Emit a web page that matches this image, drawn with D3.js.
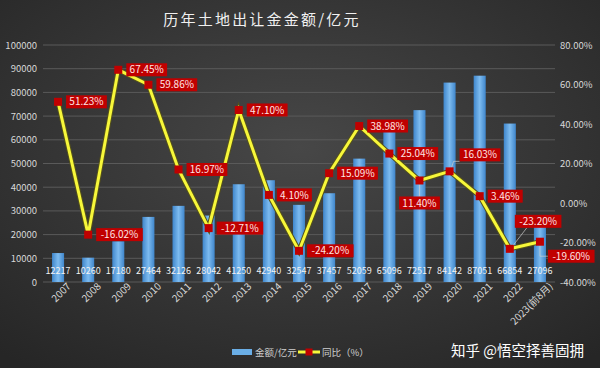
<!DOCTYPE html>
<html><head><meta charset="utf-8">
<script src="https://cdn.jsdelivr.net/npm/d3@7"></script>
<style>
html,body{margin:0;padding:0;background:#333;}
svg{display:block;}
text{font-family:"Noto Sans CJK SC","Noto Sans",sans-serif;}
</style></head>
<body>
<script>
const categories = ["2007","2008","2009","2010","2011","2012","2013","2014","2015","2016","2017","2018","2019","2020","2021","2022","2023(前8月)"];
const amounts = [12217,10260,17180,27464,32126,28042,41250,42940,32547,37457,52059,65096,72517,84142,87051,66854,27096];
const yoy = [51.23,-16.02,67.45,59.86,16.97,-12.71,47.10,4.10,-24.20,15.09,38.98,25.04,11.40,16.03,3.46,-23.20,-19.60];
const leftTicks = [0,10000,20000,30000,40000,50000,60000,70000,80000,90000,100000];
const rightTicks = [-40,-20,0,20,40,60,80];
const title = "历年土地出让金金额/亿元";
const legendLabels = ["金额/亿元","同比（%）"];
// label placement per point: r=right, b=below, ar=above-right, a=above, rb=right-below
const labelPos = ["r","r","r","r","r","r","r","r","r","r","r","r","b","ar","r","a","rb"];

const W=600,H=368;
const m={l:43,r:45,t:45,b:86};
const svg=d3.select("body").append("svg").attr("width",W).attr("height",H);
const defs=svg.append("defs");
const bg=defs.append("radialGradient").attr("id","bg").attr("cx","50%").attr("cy","40%").attr("r","75%");
bg.append("stop").attr("offset","0%").attr("stop-color","#474747");
bg.append("stop").attr("offset","100%").attr("stop-color","#262626");
const bar=defs.append("linearGradient").attr("id","bar").attr("x1","0").attr("x2","1").attr("y1","0").attr("y2","0");
bar.append("stop").attr("offset","0%").attr("stop-color","#3f86cc");
bar.append("stop").attr("offset","50%").attr("stop-color","#7dbbef");
bar.append("stop").attr("offset","100%").attr("stop-color","#3f86cc");
svg.append("rect").attr("width",W).attr("height",H).attr("fill","url(#bg)");

const x=d3.scaleBand().domain(categories).range([m.l,W-m.r]).paddingInner(0.6).paddingOuter(0.3);
const yL=d3.scaleLinear().domain([0,100000]).range([H-m.b,m.t]);
const yR=d3.scaleLinear().domain([-40,80]).range([H-m.b,m.t]);

// grid
svg.append("g").selectAll("line").data(leftTicks).join("line")
 .attr("x1",m.l).attr("x2",W-m.r).attr("y1",d=>yL(d)).attr("y2",d=>yL(d))
 .attr("stroke","#5a5a5a").attr("stroke-width",1);

// axes
const axL=svg.append("g").attr("transform",`translate(${m.l},0)`)
 .call(d3.axisLeft(yL).tickValues(leftTicks).tickSize(0).tickPadding(6).tickFormat(d3.format("d")));
axL.select(".domain").remove();
axL.selectAll("text").attr("fill","#d8d8d8").attr("font-size",9.5);
const axR=svg.append("g").attr("transform",`translate(${W-m.r},0)`)
 .call(d3.axisRight(yR).tickValues(rightTicks).tickSize(0).tickPadding(5).tickFormat(d=>d.toFixed(2)+"%"));
axR.select(".domain").remove();
axR.selectAll("text").attr("fill","#d8d8d8").attr("font-size",9.5);

// bars
const cx=d=>x(d)+x.bandwidth()/2;
svg.append("g").selectAll("rect").data(categories).join("rect")
 .attr("x",d=>x(d)).attr("width",x.bandwidth())
 .attr("y",(d,i)=>yL(amounts[i])).attr("height",(d,i)=>yL(0)-yL(amounts[i]))
 .attr("fill","url(#bar)");
svg.append("g").selectAll("text").data(categories).join("text")
 .attr("x",d=>cx(d)).attr("y",yL(0)-8).attr("text-anchor","middle")
 .attr("fill","#f2f2f2").attr("font-size",9).text((d,i)=>amounts[i]);

// x axis labels
const axB=svg.append("g").attr("transform",`translate(0,${H-m.b})`)
 .call(d3.axisBottom(x).tickSize(0).tickPadding(4));
axB.select(".domain").remove();
axB.selectAll("text").attr("fill","#d8d8d8").attr("font-size",10)
 .attr("text-anchor","end").attr("dx","0.6em").attr("dy","0.9em")
 .attr("transform","rotate(-45)");

// line
const line=d3.line().x((d,i)=>cx(categories[i])).y(d=>yR(d));
svg.append("path").datum(yoy).attr("d",line).attr("fill","none")
 .attr("stroke","#55521a").attr("stroke-width",5).attr("stroke-linejoin","miter");
svg.append("path").datum(yoy).attr("d",line).attr("fill","none")
 .attr("stroke","#f7f73a").attr("stroke-width",3).attr("stroke-linejoin","miter");

// labels
const lg=svg.append("g");
yoy.forEach((v,i)=>{
  const px=cx(categories[i]), py=yR(v);
  const txt=v.toFixed(2)+"%";
  const bw=txt.length*5.8+6, bh=13;
  let bx,by;
  const p=labelPos[i];
  if(p==="r"){bx=px+8;by=py-bh/2;}
  else if(p==="b"){bx=px-bw/2;by=py+16;
    lg.append("line").attr("x1",px).attr("x2",px).attr("y1",py+4).attr("y2",by).attr("stroke","#ccc").attr("stroke-width",0.7);}
  else if(p==="ar"){bx=px+10;by=py-23;
    lg.append("polyline").attr("points",`${px+2},${py-4} ${px+4},${py-10} ${bx},${py-10}`).attr("fill","none").attr("stroke","#ccc").attr("stroke-width",0.7);}
  else if(p==="a"){bx=px+5;by=py-34;
    lg.append("line").attr("x1",px+3).attr("x2",bx+12).attr("y1",py-3).attr("y2",by+bh).attr("stroke","#ccc").attr("stroke-width",0.7);}
  else if(p==="rb"){bx=px+8;by=py+8;
    lg.append("polyline").attr("points",`${px},${py+4} ${px},${by+bh/2} ${bx},${by+bh/2}`).attr("fill","none").attr("stroke","#ccc").attr("stroke-width",0.7);}
  lg.append("rect").attr("x",bx).attr("y",by).attr("width",bw).attr("height",bh).attr("fill","#c00000");
  lg.append("text").attr("x",bx+bw/2).attr("y",by+bh/2+3.6).attr("text-anchor","middle")
    .attr("fill","#ffe4e4").attr("font-size",10).text(txt);
});
svg.append("g").selectAll("rect").data(yoy).join("rect")
 .attr("x",(d,i)=>cx(categories[i])-4).attr("y",d=>yR(d)-4).attr("width",8).attr("height",8)
 .attr("fill","#c00000");

// title
svg.append("text").attr("x",262).attr("y",25).attr("text-anchor","middle")
 .attr("fill","#f0f0f0").attr("font-size",15).attr("letter-spacing",2.2)
 .attr("font-family","'Noto Serif CJK SC','Noto Sans CJK SC',serif").text(title);

// legend
const leg=svg.append("g");
leg.append("rect").attr("x",232).attr("y",349).attr("width",20).attr("height",6).attr("fill","#6aaee6");
leg.append("text").attr("x",255).attr("y",356).attr("fill","#cfcfcf").attr("font-size",9.5).text(legendLabels[0]);
leg.append("line").attr("x1",298).attr("x2",320).attr("y1",352).attr("y2",352).attr("stroke","#f7f73a").attr("stroke-width",3);
leg.append("rect").attr("x",305.5).attr("y",348.5).attr("width",7).attr("height",7).attr("fill","#c00000");
leg.append("text").attr("x",322).attr("y",356).attr("fill","#cfcfcf").attr("font-size",9.5).text(legendLabels[1]);

// watermark
svg.append("text").attr("x",451).attr("y",356).attr("fill","#ffffff").attr("font-size",14.5)
 .text("知乎 @悟空择善固拥");
</script>
</body></html>
